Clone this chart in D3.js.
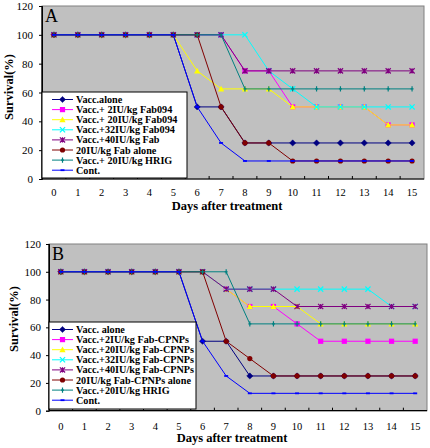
<!DOCTYPE html>
<html><head><meta charset="utf-8">
<script src="https://cdn.jsdelivr.net/npm/d3@7"></script>
<style>body{margin:0;background:#fff}svg{display:block}text{font-family:"Liberation Serif","Times New Roman","DejaVu Serif",serif}</style>
</head><body>
<svg id="c" width="430" height="448"></svg>
<script>
const days = [0,1,2,3,4,5,6,7,8,9,10,11,12,13,14,15];
const yTicks = [0,20,40,60,80,100,120];

const labelsA = ["Vacc.alone","Vacc.+ 2IU/kg Fab094","Vacc.+ 20IU/kg Fab094","Vacc.+32IU/kg Fab094","Vacc.+40IU/kg Fab","20IU/kg Fab alone","Vacc.+ 20IU/kg HRIG","Cont."];
const labelsB = ["Vacc. alone","Vacc.+2IU/kg Fab-CPNPs","Vacc.+20IU/kg Fab-CPNPs","Vacc.+32IU/kg Fab-CPNPs","Vacc.+40IU/kg Fab-CPNPs","20IU/kg Fab-CPNPs alone","Vacc.+20IU/kg HRIG","Cont."];

// Panel A values
const vaccAloneA = [100,100,100,100,100,100,50,50,25,25,25,25,25,25,25,25];
const fab2A      = [100,100,100,100,100,100,100,100,75,75,50,50,50,50,37.5,37.5];
const fab20A     = [100,100,100,100,100,100,75,62.5,62.5,62.5,50,50,50,50,37.5,37.5];
const fab32A     = [100,100,100,100,100,100,100,100,100,75,62.5,50,50,50,50,50];
const fab40A     = [100,100,100,100,100,100,100,100,75,75,75,75,75,75,75,75];
const fabAloneA  = [100,100,100,100,100,100,100,50,25,25,12.5,12.5,12.5,12.5,12.5,12.5];
const hrigA      = [100,100,100,100,100,100,100,100,62.5,62.5,62.5,62.5,62.5,62.5,62.5,62.5];
const contA      = [100,100,100,100,100,100,50,25,12.5,12.5,12.5,12.5,12.5,12.5,12.5,12.5];

// Panel B values
const vaccAloneB = [100,100,100,100,100,100,50,50,25,25,25,25,25,25,25,25];
const fab2B      = [100,100,100,100,100,100,100,87.5,75,75,62.5,50,50,50,50,50];
const fab20B     = [100,100,100,100,100,100,100,87.5,75,75,75,62.5,62.5,62.5,62.5,62.5];
const fab32B     = [100,100,100,100,100,100,100,87.5,87.5,87.5,87.5,87.5,87.5,87.5,75,75];
const fab40B     = [100,100,100,100,100,100,100,87.5,87.5,87.5,75,75,75,75,75,75];
const fabAloneB  = [100,100,100,100,100,100,100,50,37.5,25,25,25,25,25,25,25];
const hrigB      = [100,100,100,100,100,100,100,100,62.5,62.5,62.5,62.5,62.5,62.5,62.5,62.5];
const contB      = [100,100,100,100,100,100,50,25,12.5,12.5,12.5,12.5,12.5,12.5,12.5,12.5];

const colors = ["#000080","#FF00FF","#FFFF00","#00FFFF","#800080","#800000","#008080","#0000FF"];
const markers = ["diamond","square","triangle","x","star","circle","plus","dash"];

const svg = d3.select("#c");

function drawMarker(g, type, x, y, color) {
  const s = 2.6;
  if (type === "diamond") {
    g.append("path").attr("d", `M${x},${y-s-0.5}L${x+s+0.5},${y}L${x},${y+s+0.5}L${x-s-0.5},${y}Z`).attr("fill", color).attr("stroke", color).attr("stroke-width",0.5);
  } else if (type === "square") {
    g.append("rect").attr("x", x-s).attr("y", y-s).attr("width", 2*s).attr("height", 2*s).attr("fill", color);
  } else if (type === "triangle") {
    g.append("path").attr("d", `M${x},${y-s-0.5}L${x+s+0.5},${y+s}L${x-s-0.5},${y+s}Z`).attr("fill", color);
  } else if (type === "x") {
    g.append("path").attr("d", `M${x-s},${y-s}L${x+s},${y+s}M${x-s},${y+s}L${x+s},${y-s}`).attr("stroke", color).attr("stroke-width",1.2);
  } else if (type === "star") {
    g.append("path").attr("d", `M${x-s},${y-s}L${x+s},${y+s}M${x-s},${y+s}L${x+s},${y-s}M${x},${y-s}L${x},${y+s}`).attr("stroke", color).attr("stroke-width",1.2);
  } else if (type === "circle") {
    g.append("circle").attr("cx", x).attr("cy", y).attr("r", s).attr("fill", color);
  } else if (type === "plus") {
    g.append("path").attr("d", `M${x},${y-s}L${x},${y+s}M${x-1.5},${y}L${x+1.5},${y}`).attr("stroke", color).attr("stroke-width",1.2);
  } else if (type === "dash") {
    g.append("path").attr("d", `M${x-2},${y}L${x+2},${y}`).attr("stroke", color).attr("stroke-width",1.8);
  }
}

function drawPanel(cfg) {
  const {left, right, top, bottom, series, labels, letter, legendBox, legendLine, yLabelX, yLabelY, tickLabelY, titleY, yTickRight} = cfg;
  const g = svg.append("g");
  const x = d3.scaleBand().domain(days).range([left, right]);
  const y = d3.scaleLinear().domain([0, 120]).range([bottom, top]);

  g.append("rect").attr("x", left).attr("y", top).attr("width", right-left).attr("height", bottom-top)
    .attr("fill", "#C0C0C0").attr("stroke", "#808080").attr("stroke-width", 1);

  // x axis
  const xAxis = d3.axisBottom(x).tickSize(0).tickPadding(0);
  const gx = g.append("g").attr("transform", `translate(0,${bottom})`).call(xAxis);
  gx.select(".domain").remove();
  gx.selectAll("text").attr("y", tickLabelY - bottom).attr("dy", "0.35em")
    .style("font-family", '"Liberation Serif","DejaVu Serif",serif').attr("font-size", 10.5).attr("fill", "#000");
  g.selectAll(".xt").data(days.slice(1)).enter().append("line")
    .attr("x1", d => x(d)).attr("x2", d => x(d)).attr("y1", bottom).attr("y2", bottom-3)
    .attr("stroke", "#000").attr("stroke-width", 1);
  g.append("line").attr("x1", left).attr("x2", right).attr("y1", bottom).attr("y2", bottom).attr("stroke", "#000").attr("stroke-width", 1.2);

  // y axis
  const yAxis = d3.axisLeft(y).tickValues(yTicks).tickSize(3).tickPadding(8);
  const gy = g.append("g").attr("transform", `translate(${left},0)`).call(yAxis);
  gy.select(".domain").attr("stroke", "#000");
  gy.selectAll("text").style("font-family", '"Liberation Serif","DejaVu Serif",serif').attr("font-size", 11).attr("fill", "#000")
    .attr("x", yTickRight - left);
  g.append("line").attr("x1", left).attr("x2", left).attr("y1", top).attr("y2", bottom).attr("stroke", "#000").attr("stroke-width", 1.2);

  // series
  const line = d3.line().x((d, i) => x(days[i]) + x.bandwidth()/2).y(d => y(d));
  series.forEach((vals, k) => {
    g.append("path").datum(vals).attr("d", line).attr("fill", "none").attr("stroke", colors[k]).attr("stroke-width", 1);
    vals.forEach((v, i) => drawMarker(g, markers[k], x(days[i]) + x.bandwidth()/2, y(v), colors[k]));
  });

  g.append("text").attr("x", left + 3).attr("y", top + 16).text(letter)
    .attr("font-size", 18).attr("fill", "#000");

  // legend
  const [lx, ly, lw, lh] = legendBox;
  const [l1, l2, tx] = legendLine;
  g.append("rect").attr("x", lx).attr("y", ly).attr("width", lw).attr("height", lh)
    .attr("fill", "#fff").attr("stroke", "#000").attr("stroke-width", 1);
  labels.forEach((lab, k) => {
    const yy = ly + 7.5 + k * 10.1;
    g.append("line").attr("x1", l1).attr("x2", l2).attr("y1", yy).attr("y2", yy).attr("stroke", colors[k]).attr("stroke-width", 1);
    drawMarker(g, markers[k], (l1 + l2)/2, yy, colors[k]);
    g.append("text").attr("x", tx).attr("y", yy).attr("dy", "0.35em").text(lab)
      .attr("font-weight", "bold").attr("font-size", 10.2).attr("fill", "#000");
  });

  g.append("text").attr("x", (left + right)/2 - 6).attr("y", titleY).attr("dy", "0.35em").attr("text-anchor", "middle")
    .text("Days after treatment").attr("font-weight", "bold").attr("font-size", 12.5).attr("fill", "#000");
  g.append("text").attr("transform", `translate(${yLabelX},${yLabelY}) rotate(-90)`).attr("dy", "0.35em")
    .attr("text-anchor", "middle").text("Survival(%)")
    .attr("font-weight", "bold").attr("font-size", 12.5).attr("fill", "#000");
}

drawPanel({left: 42, right: 424, top: 6, bottom: 179,
  series: [vaccAloneA, fab2A, fab20A, fab32A, fab40A, fabAloneA, hrigA, contA],
  labels: labelsA, letter: "A", legendBox: [42, 92, 145, 86], legendLine: [52, 73, 76],
  yLabelX: 8.5, yLabelY: 87, tickLabelY: 192, titleY: 206, yTickRight: 33});

drawPanel({left: 49, right: 427, top: 244, bottom: 410.7,
  series: [vaccAloneB, fab2B, fab20B, fab32B, fab40B, fabAloneB, hrigB, contB],
  labels: labelsB, letter: "B", legendBox: [49, 322, 147, 87], legendLine: [52, 73, 76],
  yLabelX: 13.5, yLabelY: 319, tickLabelY: 426, titleY: 438, yTickRight: 41});
</script>
</body></html>
